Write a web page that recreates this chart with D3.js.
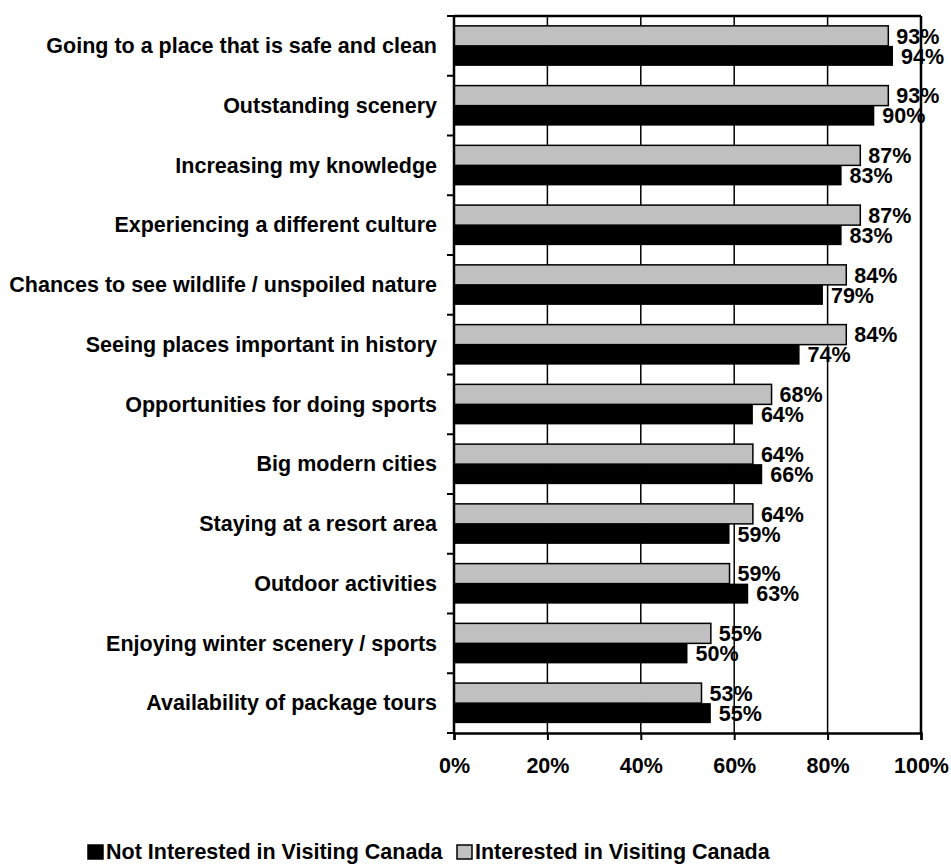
<!DOCTYPE html>
<html>
<head>
<meta charset="utf-8">
<script src="https://cdn.jsdelivr.net/npm/d3@7"></script>
<style>
  html, body { margin: 0; padding: 0; background: #fff; }
  svg text { font-family: Arial, "Liberation Sans", sans-serif; font-weight: bold; fill: #000; }
</style>
</head>
<body>
<svg id="chart" width="951" height="865"></svg>
<script>
// Travel motivations, share of respondents rating each one important
const categories = [
  "Going to a place that is safe and clean",
  "Outstanding scenery",
  "Increasing my knowledge",
  "Experiencing a different culture",
  "Chances to see wildlife / unspoiled nature",
  "Seeing places important in history",
  "Opportunities for doing sports",
  "Big modern cities",
  "Staying at a resort area",
  "Outdoor activities",
  "Enjoying winter scenery / sports",
  "Availability of package tours"
];
const interested    = [93, 93, 87, 87, 84, 84, 68, 64, 64, 59, 55, 53];
const notInterested = [94, 90, 83, 83, 79, 74, 64, 66, 59, 63, 50, 55];
const seriesNames = ["Not Interested in Visiting Canada", "Interested in Visiting Canada"];
const xTicks = [0, 20, 40, 60, 80, 100];

const svg = d3.select("#chart");
const plotLeft = 454, plotRight = 921, plotTop = 16, plotBottom = 733;
const fontSize = 21.5;

const x = d3.scaleLinear().domain([0, 100]).range([plotLeft, plotRight]);
const y = d3.scaleBand().domain(categories).range([plotTop, plotBottom])
  .paddingInner(0.33).paddingOuter(0.165);
// Within each category: the "Interested" bar sits above the "Not Interested" bar
const ySub = d3.scaleBand().domain(["interested", "not"]).range([0, y.bandwidth()]);

const rows = categories.map((c, i) => ({
  cat: c,
  bars: [
    { key: "interested", v: interested[i], fill: "#c0c0c0" },
    { key: "not", v: notInterested[i], fill: "#000" }
  ]
}));

// Vertical gridlines
svg.append("g").selectAll("line")
  .data(xTicks.filter(t => t > 0 && t < 100))
  .join("line")
  .attr("x1", d => x(d)).attr("x2", d => x(d))
  .attr("y1", plotTop).attr("y2", plotBottom)
  .attr("stroke", "#000").attr("stroke-width", 1.5);

// Bars
const groups = svg.append("g").selectAll("g")
  .data(rows).join("g")
  .attr("transform", d => `translate(0,${y(d.cat)})`);

groups.selectAll("rect")
  .data(d => d.bars).join("rect")
  .attr("x", x(0))
  .attr("y", d => ySub(d.key))
  .attr("width", d => x(d.v) - x(0))
  .attr("height", ySub.bandwidth())
  .attr("fill", d => d.fill)
  .attr("stroke", "#000")
  .attr("stroke-width", d => d.key === "interested" ? 1.5 : 0);

// Value labels
groups.selectAll("text")
  .data(d => d.bars).join("text")
  .attr("x", d => x(d.v) + 8)
  .attr("y", d => ySub(d.key) + ySub.bandwidth() / 2)
  .attr("dy", "0.36em")
  .attr("font-size", fontSize)
  .text(d => d.v + "%");

// Category labels
svg.append("g").selectAll("text")
  .data(categories).join("text")
  .attr("x", 437)
  .attr("y", d => y(d) + y.bandwidth() / 2)
  .attr("dy", "0.34em")
  .attr("text-anchor", "end")
  .attr("font-size", fontSize)
  .text(d => d);

// Left axis line with category separator ticks
const sepTicks = d3.range(categories.length + 1)
  .map(i => plotTop + i * (plotBottom - plotTop) / categories.length);
svg.append("line").attr("x1", plotLeft).attr("x2", plotLeft).attr("y1", plotTop).attr("y2", plotBottom)
  .attr("stroke", "#000").attr("stroke-width", 2.5);
svg.append("g").selectAll("line").data(sepTicks).join("line")
  .attr("x1", plotLeft - 7).attr("x2", plotLeft).attr("y1", d => d).attr("y2", d => d)
  .attr("stroke", "#000").attr("stroke-width", 2);

// Plot border (top and right)
svg.append("line").attr("x1", plotLeft).attr("x2", plotRight).attr("y1", plotTop).attr("y2", plotTop)
  .attr("stroke", "#000").attr("stroke-width", 2.5);
svg.append("line").attr("x1", plotRight).attr("x2", plotRight).attr("y1", plotTop).attr("y2", plotBottom)
  .attr("stroke", "#000").attr("stroke-width", 2.5);

// Bottom axis
const xAxis = d3.axisBottom(x).tickValues(xTicks).tickFormat(d => d + "%").tickSize(7).tickPadding(18);
const ax = svg.append("g").attr("transform", `translate(0,${plotBottom})`).call(xAxis);
ax.select(".domain").attr("stroke", "#000").attr("stroke-width", 2.5);
ax.selectAll(".tick line").attr("stroke", "#000").attr("stroke-width", 2);
ax.selectAll(".tick text")
  .attr("font-size", fontSize)
  .attr("font-family", "Arial, 'Liberation Sans', sans-serif")
  .attr("font-weight", "bold")
  .attr("fill", "#000");

// Legend
const legend = svg.append("g").attr("transform", "translate(88,859)");
const legendItems = [
  { name: seriesNames[0], fill: "#000", x: 0 },
  { name: seriesNames[1], fill: "#c0c0c0", x: 369 }
];
const li = legend.selectAll("g").data(legendItems).join("g")
  .attr("transform", d => `translate(${d.x},0)`);
li.append("rect")
  .attr("x", 0).attr("y", -14).attr("width", 15).attr("height", 14)
  .attr("fill", d => d.fill).attr("stroke", "#000").attr("stroke-width", 1.5);
li.append("text")
  .attr("x", 18).attr("y", 0)
  .attr("font-size", fontSize)
  .text(d => d.name);
</script>
</body>
</html>
